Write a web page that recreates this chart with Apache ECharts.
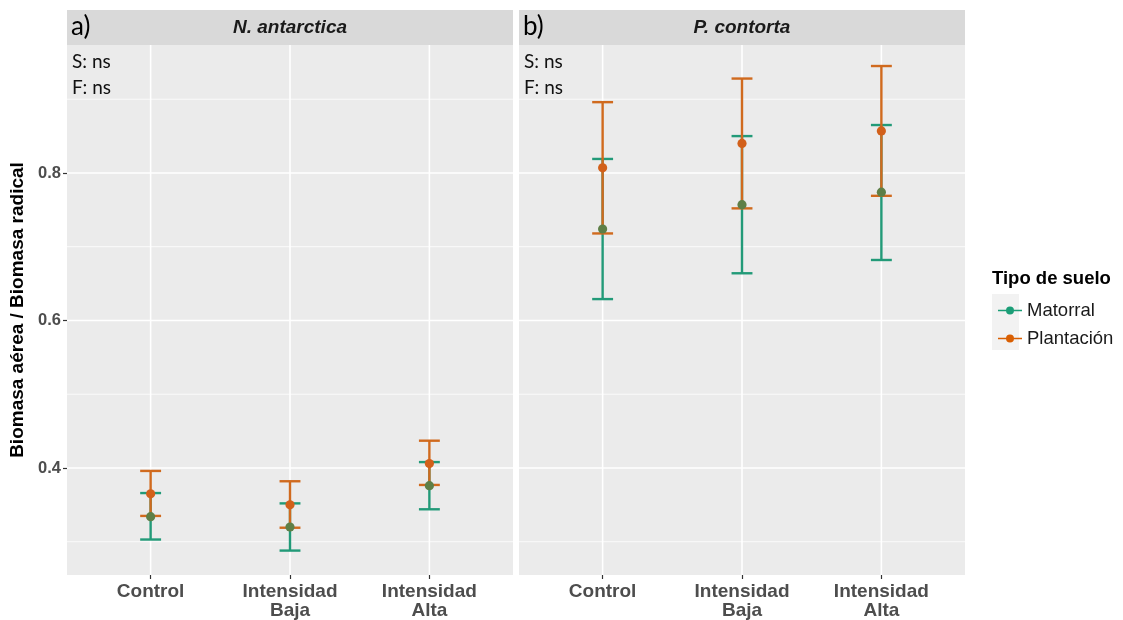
<!DOCTYPE html>
<html>
<head>
<meta charset="utf-8">
<script src="https://cdn.jsdelivr.net/npm/echarts@6/dist/echarts.min.js"></script>
<style>
  html, body { margin: 0; padding: 0; background: #fff; }
  #chart { width: 1123px; height: 620px; }
</style>
</head>
<body>
<div id="chart"></div>
<script>
// Treatments on the x axis (one position per category, 1..3)
const categories = ['Control', 'Intensidad\nBaja', 'Intensidad\nAlta'];
const panelTitles = ['N. antarctica', 'P. contorta'];
const panelTags = ['a)', 'b)'];
const soilTypes = ['Matorral', 'Plantación'];
const soilColors = ['#1B9E77', '#D95F02'];
const barStrokes = ['#229A78', '#D06A1E'];
const pointFills = ['#5E7F47', '#D2601A'];

// N. antarctica: mean and interval bounds per treatment
const naMatorralMean = [0.334, 0.320, 0.376];
const naMatorralLow  = [0.303, 0.288, 0.344];
const naMatorralHigh = [0.366, 0.352, 0.408];
const naPlantacionMean = [0.365, 0.350, 0.406];
const naPlantacionLow  = [0.335, 0.319, 0.377];
const naPlantacionHigh = [0.396, 0.382, 0.437];

// P. contorta: mean and interval bounds per treatment
const pcMatorralMean = [0.724, 0.757, 0.774];
const pcMatorralLow  = [0.629, 0.664, 0.682];
const pcMatorralHigh = [0.819, 0.850, 0.865];
const pcPlantacionMean = [0.807, 0.840, 0.857];
const pcPlantacionLow  = [0.718, 0.752, 0.769];
const pcPlantacionHigh = [0.896, 0.928, 0.945];

const yTicks = [0.4, 0.6, 0.8];
const yMinor = [0.3, 0.5, 0.7, 0.9];
const xTicks = [1, 2, 3];
const annotations = ['S: ns', 'F: ns'];

const FONT = '"Liberation Sans", Arial, sans-serif';
const NOTE_FONT = 'Lato, "Open Sans", sans-serif';
const Y_MIN = 0.2549, Y_MAX = 0.9735;
const X_MIN = 0.4, X_MAX = 3.6;
const CAP_WIDTH = 0.15;

const grids = [
  { left: 67, top: 45, width: 446, height: 530 },
  { left: 519, top: 45, width: 446, height: 530 }
];

function rows(mean, low, high) {
  return mean.map((m, i) => [i + 1, m, low[i], high[i]]);
}

const panelData = [
  [rows(naMatorralMean, naMatorralLow, naMatorralHigh), rows(naPlantacionMean, naPlantacionLow, naPlantacionHigh)],
  [rows(pcMatorralMean, pcMatorralLow, pcMatorralHigh), rows(pcPlantacionMean, pcPlantacionLow, pcPlantacionHigh)]
];

function errorBarRenderer(stroke, fill) {
  return function (params, api) {
    const x = api.value(0);
    const top = api.coord([x, api.value(3)]);
    const bot = api.coord([x, api.value(2)]);
    const mid = api.coord([x, api.value(1)]);
    const half = api.size([CAP_WIDTH / 2, 0])[0];
    const style = { stroke: stroke, lineWidth: 2.4 };
    return {
      type: 'group',
      children: [
        { type: 'line', shape: { x1: top[0], y1: top[1], x2: bot[0], y2: bot[1] }, style: style },
        { type: 'line', shape: { x1: top[0] - half, y1: top[1], x2: top[0] + half, y2: top[1] }, style: style },
        { type: 'line', shape: { x1: bot[0] - half, y1: bot[1], x2: bot[0] + half, y2: bot[1] }, style: style },
        { type: 'circle', z2: 10, shape: { cx: mid[0], cy: mid[1], r: 4.6 }, style: { fill: fill } }
      ]
    };
  };
}

// Horizontal white grid lines spanning the panel
function hLineRenderer(width) {
  return function (params, api) {
    const cs = params.coordSys;
    const y = api.coord([X_MIN, api.value(0)])[1];
    return { type: 'line', shape: { x1: cs.x, y1: y, x2: cs.x + cs.width, y2: y },
             style: { stroke: '#FFFFFF', lineWidth: width } };
  };
}
// Vertical white grid lines at each category
function vLineRenderer(width) {
  return function (params, api) {
    const cs = params.coordSys;
    const x = api.coord([api.value(0), Y_MIN])[0];
    return { type: 'line', shape: { x1: x, y1: cs.y, x2: x, y2: cs.y + cs.height },
             style: { stroke: '#FFFFFF', lineWidth: width } };
  };
}

const xAxes = grids.map((g, i) => ({
  type: 'value', gridIndex: i, min: X_MIN, max: X_MAX,
  axisLine: { show: false },
  splitLine: { show: false },
  axisTick: { show: true, customValues: xTicks, length: 4, lineStyle: { color: '#333333', width: 1.2 } },
  axisLabel: {
    show: true, customValues: xTicks, margin: 7,
    formatter: v => categories[Math.round(v) - 1],
    color: '#4D4D4D', fontFamily: FONT, fontWeight: 'bold', fontSize: 19, lineHeight: 19
  }
}));

const yAxes = grids.map((g, i) => ({
  type: 'value', gridIndex: i, min: Y_MIN, max: Y_MAX,
  axisLine: { show: false },
  splitLine: { show: false },
  axisTick: { show: i === 0, customValues: yTicks, length: 4, lineStyle: { color: '#333333', width: 1.2 } },
  axisLabel: {
    show: i === 0, customValues: yTicks, margin: 6,
    formatter: v => v.toFixed(1),
    color: '#4D4D4D', fontFamily: FONT, fontWeight: 'bold', fontSize: 16.5
  }
}));

const series = [];
grids.forEach((g, i) => {
  series.push({ type: 'custom', name: 'grid-minor', xAxisIndex: i, yAxisIndex: i, z: 1, silent: true,
    renderItem: hLineRenderer(0.8), data: yMinor.map(v => [v]), encode: { y: 0 } });
  series.push({ type: 'custom', name: 'grid-major', xAxisIndex: i, yAxisIndex: i, z: 1, silent: true,
    renderItem: hLineRenderer(1.6), data: yTicks.map(v => [v]), encode: { y: 0 } });
  series.push({ type: 'custom', name: 'grid-x', xAxisIndex: i, yAxisIndex: i, z: 1, silent: true,
    renderItem: vLineRenderer(1.6), data: xTicks.map(v => [v]), encode: { x: 0 } });
  soilTypes.forEach((s, k) => {
    series.push({
      type: 'custom', name: s, xAxisIndex: i, yAxisIndex: i, z: 3, clip: false,
      itemStyle: { color: soilColors[k] },
      renderItem: errorBarRenderer(barStrokes[k], pointFills[k]),
      encode: { x: 0, y: [1, 2, 3] },
      data: panelData[i][k]
    });
  });
});

const legendIcon = 'path://M0,3.2L24,3.2L24,4.8L0,4.8Z M8,4A4,4 0 1,1 16,4A4,4 0 1,1 8,4Z';

const graphics = [];
grids.forEach((g, i) => {
  graphics.push({ type: 'rect', left: g.left, top: 10, shape: { width: g.width, height: 35 },
    style: { fill: '#D9D9D9' }, silent: true });
  graphics.push({ type: 'text', x: g.left + g.width / 2, y: 28,
    style: { text: panelTitles[i], fill: '#1A1A1A', font: 'italic bold 19px ' + FONT,
             textAlign: 'center', textVerticalAlign: 'middle' } });
  graphics.push({ type: 'text', x: g.left + 4, y: 27,
    style: { text: panelTags[i], fill: '#000000', font: '26px ' + NOTE_FONT,
             textAlign: 'left', textVerticalAlign: 'middle' } });
  annotations.forEach((t, j) => {
    graphics.push({ type: 'text', x: g.left + 5, y: 62 + j * 26,
      style: { text: t, fill: '#111111', font: '19px ' + NOTE_FONT,
               textAlign: 'left', textVerticalAlign: 'middle' } });
  });
});
// y-axis title
graphics.push({ type: 'text', x: 18, y: 310, rotation: Math.PI / 2,
  style: { text: 'Biomasa aérea / Biomasa radical', fill: '#000000', font: 'bold 19px ' + FONT,
           textAlign: 'center', textVerticalAlign: 'middle' } });
// legend title and key backgrounds
graphics.push({ type: 'text', x: 992, y: 279,
  style: { text: 'Tipo de suelo', fill: '#000000', font: 'bold 18.5px ' + FONT,
           textAlign: 'left', textVerticalAlign: 'middle' } });
soilTypes.forEach((s, k) => {
  graphics.push({ type: 'rect', left: 992, top: 294 + k * 28, shape: { width: 27, height: 28 },
    style: { fill: '#F2F2F2' }, silent: true, z: -1 });
});

const option = {
  animation: false,
  backgroundColor: '#FFFFFF',
  grid: grids.map(g => Object.assign({ show: true, backgroundColor: '#EBEBEB', borderWidth: 0 }, g)),
  xAxis: xAxes,
  yAxis: yAxes,
  legend: {
    orient: 'vertical', left: 993, top: 296, itemWidth: 24, itemHeight: 8, itemGap: 9,
    data: soilTypes.map((s, k) => ({ name: s, icon: legendIcon, itemStyle: { color: soilColors[k] } })),
    textStyle: { fontFamily: FONT, fontSize: 18.5, color: '#1A1A1A', padding: [0, 0, 0, 0] },
    selectedMode: false
  },
  graphic: graphics,
  series: series
};

const chart = echarts.init(document.getElementById('chart'), null, { renderer: 'canvas' });
chart.setOption(option);
</script>
</body>
</html>
